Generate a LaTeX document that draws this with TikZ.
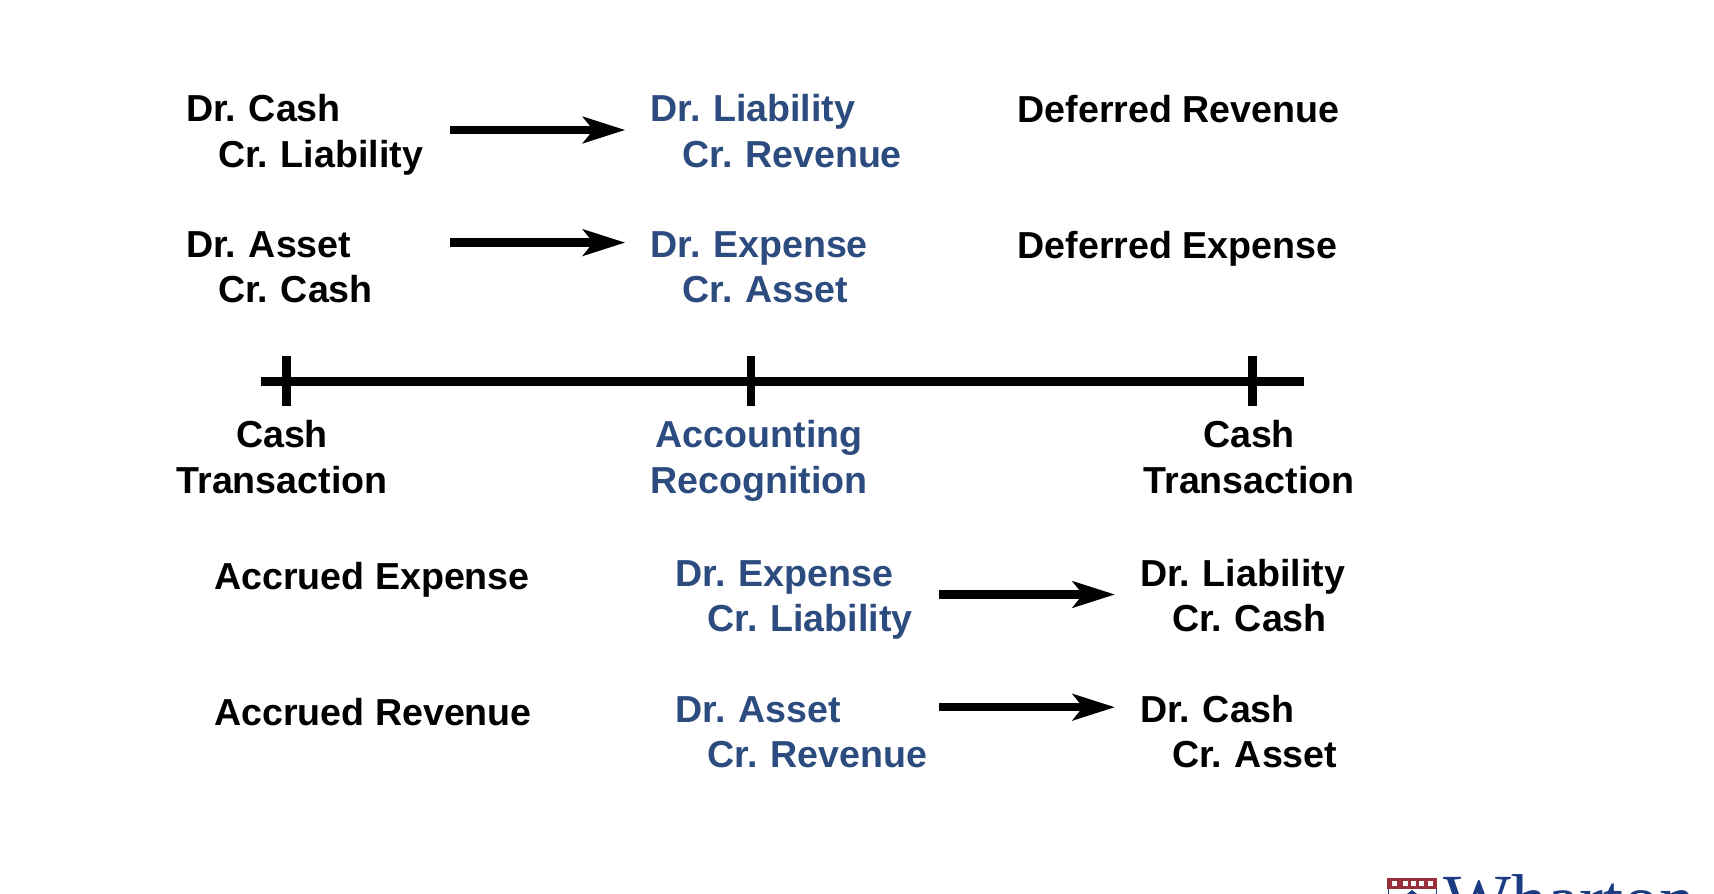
\documentclass[tikz,border=0pt]{standalone}
\usepackage{fontspec}
\setmainfont{Liberation Sans}
\newfontfamily\logofont{Liberation Serif}
\usetikzlibrary{calc,arrows.meta}
\definecolor{acctblue}{HTML}{2C4B7E}
\definecolor{logoblue}{HTML}{1B3B82}
\definecolor{logored}{HTML}{9A2F3C}
\newcommand{\firststrut}{\rule{0pt}{36.8pt}}
\newcommand{\laststrut}{\rule[-8pt]{0pt}{8pt}}
\newcommand{\entrylines}[2]{#1\firststrut\\\hspace*{32pt}#2\laststrut}
\frenchspacing

\begin{document}
\begin{tikzpicture}[x=1pt, y=-1pt]
    \tikzstyle{every node}=[inner sep=0, font=\fontsize{37.6}{45.5}\selectfont\bfseries]
    \tikzstyle{entry}=[anchor=west, align=left, text width=263.4pt]
    \tikzstyle{recog}=[text=acctblue]
    \tikzstyle{tag}=[anchor=base west]
    \tikzstyle{flow}=[line width=8.5pt, -{Stealth[length=42pt, width=26pt, inset=10pt]}, shorten >=25pt]
    \tikzstyle{bar}=[line width=8.5pt]
    \useasboundingbox (0,0) rectangle (1714,894);
    % Deferred items, above the time line
    \node[entry] (CASHIN) at (186,130) {\entrylines{Dr. Cash}{Cr. Liability}};
    \node[entry, recog] (REVOUT) at ($(CASHIN.west)+(464.3,0)$) {\entrylines{Dr. Liability}{Cr. Revenue}};
    \node[tag] (DEFREV) at (1017.6,122.8) {Deferred Revenue};
    \node[entry] (CASHOUT) at (186,265.4) {\entrylines{Dr. Asset}{Cr. Cash}};
    \node[entry, recog] (EXPOUT) at ($(CASHOUT.west)+(464.3,0)$) {\entrylines{Dr. Expense}{Cr. Asset}};
    \node[tag] (DEFEXP) at (1017.6,258.8) {Deferred Expense};
    \draw[flow] (CASHIN.east) -- (REVOUT.west);
    \draw[flow] ([yshift=22.8pt]CASHOUT.east) -- ([yshift=22.8pt]EXPOUT.west);
    % Time line
    \coordinate (LINEL) at (261.2,381.4);
    \coordinate (LINER) at (1304,381.4);
    \draw[bar] (LINEL) -- (LINER);
    \foreach \name/\pos in {TICKA/286.4, TICKB/751, TICKC/1252.6} {
        \coordinate (\name) at (\pos,381.4);
        \draw[bar] ($(\name)+(0,-25)$) -- ($(\name)+(0,25)$);
    }
    \node[align=center] (PAYA) at (282,456) {Cash\firststrut\\Transaction\laststrut};
    \node[align=center, recog] (RECOG) at (759,456) {Accounting\firststrut\\Recognition\laststrut};
    \node[align=center] (PAYB) at (1249,456) {Cash\firststrut\\Transaction\laststrut};
    % Accrued items, below the time line
    \node[tag] (ACCEXP) at (214,589.5) {Accrued Expense};
    \node[entry, recog] (EXPIN) at (675.5,594.5) {\entrylines{Dr. Expense}{Cr. Liability}};
    \node[entry] (PAYLIAB) at ($(EXPIN.west)+(464.5,0)$) {\entrylines{Dr. Liability}{Cr. Cash}};
    \node[tag] (ACCREV) at (214,725.5) {Accrued Revenue};
    \node[entry, recog] (REVIN) at (675.5,730.5) {\entrylines{Dr. Asset}{Cr. Revenue}};
    \node[entry] (GETCASH) at ($(REVIN.west)+(464.5,0)$) {\entrylines{Dr. Cash}{Cr. Asset}};
    \draw[flow] (EXPIN.east) -- (PAYLIAB.west);
    \draw[flow] ([yshift=23.3pt]REVIN.east) -- ([yshift=23.3pt]GETCASH.west);
    % Logo, cut off by the page
    \fill[logored] (1387,878) rectangle (1437,889);
    \foreach \pos in {1392,1403,1411,1419,1428} \fill[white] (\pos,881) rectangle (\pos+5,886);
    \draw[logoblue, line width=0.8pt] (1388,889) -- (1388,894);
    \draw[logoblue, line width=0.8pt] (1436,889) -- (1436,894);
    \fill[logoblue] (1407,894) -- (1412,890) -- (1417,894) -- cycle;
    \node[anchor=base west, text=logoblue, font=\logofont\fontsize{72}{72}\selectfont] (LOGO) at (1443,924) {Wharton};
\end{tikzpicture}
\end{document}
